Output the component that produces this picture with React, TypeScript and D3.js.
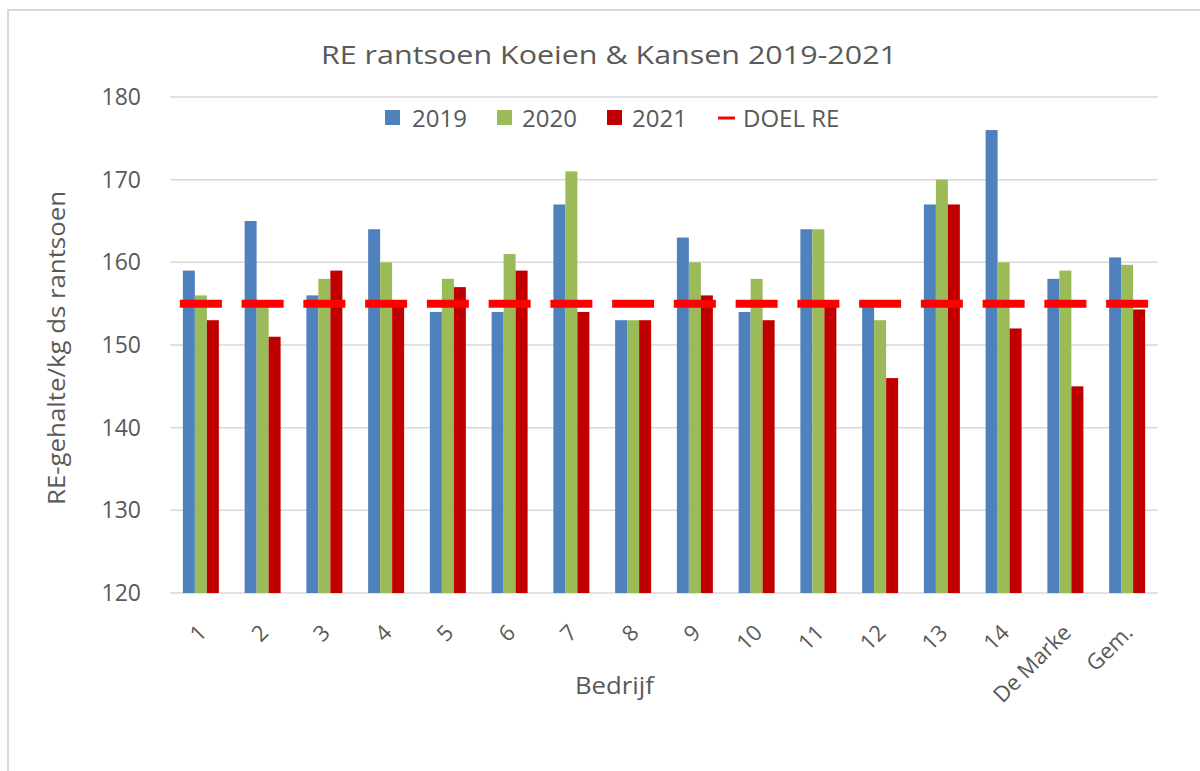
import React from "react";
import * as d3 from "d3";

const categories = ["1", "2", "3", "4", "5", "6", "7", "8", "9", "10", "11", "12", "13", "14", "De Marke", "Gem."];
const years = ["2019", "2020", "2021"];
const values2019 = [159, 165, 156, 164, 154, 154, 167, 153, 163, 154, 164, 155, 167, 176, 158, 160.6];
const values2020 = [156, 155, 158, 160, 158, 161, 171, 153, 160, 158, 164, 153, 170, 160, 159, 159.7];
const values2021 = [153, 151, 159, 155, 157, 159, 154, 153, 156, 153, 155, 146, 167, 152, 145, 154.3];
const doelRE = [155, 155, 155, 155, 155, 155, 155, 155, 155, 155, 155, 155, 155, 155, 155, 155];
const yTicks = [120, 130, 140, 150, 160, 170, 180];

const colors = ["#4F81BD", "#9BBB59", "#C00000"];
const doelColor = "#FF0000";
const textColor = "#595959";
const gridColor = "#D9D9D9";
const font = "'Open Sans', sans-serif";

const W = 1200;
const H = 771;

export default function App() {
  const series = [values2019, values2020, values2021];

  const x = d3.scaleBand().domain(categories).range([170, 1158]).padding(0);
  const y = d3.scaleLinear().domain([120, 180]).range([593, 97]);
  const groupW = 36;
  const sub = d3.scaleBand().domain(years).range([0, groupW]).padding(0);
  const groupOffset = (x.bandwidth() - groupW) / 2;
  const dashW = 42;

  // legend layout (x positions of the key and label)
  const legendY = 118;
  const legendItems = [
    { label: "2019", kx: 385, tx: 412, type: "box", color: colors[0] },
    { label: "2020", kx: 497, tx: 522, type: "box", color: colors[1] },
    { label: "2021", kx: 607, tx: 632, type: "box", color: colors[2] },
    { label: "DOEL RE", kx: 718, tx: 743, type: "line", color: doelColor },
  ];

  return (
    <div style={{ position: "absolute", left: 0, top: 0 }}>
      <svg width={W} height={H} style={{ display: "block", background: "#fff" }}>
        {/* chart area border */}
        <rect x={8} y={10} width={W + 20} height={H + 20} fill="#fff" stroke={gridColor} strokeWidth={2} />

        <text
          x={321}
          y={64}
          textLength={576}
          lengthAdjust="spacingAndGlyphs"
          fontFamily={font}
          fontSize={26}
          fill={textColor}
        >
          RE rantsoen Koeien &amp; Kansen 2019-2021
        </text>

        {/* gridlines */}
        {yTicks.map((t) => (
          <line key={"g" + t} x1={170} x2={1158} y1={y(t)} y2={y(t)} stroke={gridColor} strokeWidth={1.5} />
        ))}

        {/* y tick labels */}
        {yTicks.map((t) => (
          <text key={"yt" + t} x={141} y={y(t)} dy="0.35em" textAnchor="end" fontFamily={font} fontSize={23} fill={textColor}>
            {t}
          </text>
        ))}

        {/* bars */}
        {series.map((vals, si) =>
          vals.map((v, i) => {
            const bx = (x(categories[i]) as number) + groupOffset + (sub(years[si]) as number);
            return (
              <rect
                key={"b" + si + "-" + i}
                x={bx}
                y={y(v)}
                width={sub.bandwidth()}
                height={y(120) - y(v)}
                fill={colors[si]}
              />
            );
          })
        )}

        {/* DOEL RE dashes */}
        {doelRE.map((v, i) => {
          const cx = (x(categories[i]) as number) + x.bandwidth() / 2;
          return (
            <line key={"d" + i} x1={cx - dashW / 2} x2={cx + dashW / 2} y1={y(v)} y2={y(v)} stroke={doelColor} strokeWidth={8} />
          );
        })}

        {/* x tick labels */}
        {categories.map((c) => {
          const cx = (x(c) as number) + x.bandwidth() / 2;
          return (
            <text
              key={"xt" + c}
              transform={`translate(${cx + 7},${634}) rotate(-45)`}
              textAnchor="end"
              fontFamily={font}
              fontSize={22}
              fill={textColor}
            >
              {c}
            </text>
          );
        })}

        {/* axis titles */}
        <text
          x={575}
          y={694}
          textLength={79}
          lengthAdjust="spacingAndGlyphs"
          fontFamily={font}
          fontSize={23}
          fill={textColor}
        >
          Bedrijf
        </text>
        <text
          transform={`translate(65,${505}) rotate(-90)`}
          textLength={314}
          lengthAdjust="spacingAndGlyphs"
          fontFamily={font}
          fontSize={23}
          fill={textColor}
        >
          RE-gehalte/kg ds rantsoen
        </text>

        {/* legend */}
        {legendItems.map((it) => (
          <g key={"l" + it.label}>
            {it.type === "box" ? (
              <rect x={it.kx} y={legendY - 8} width={15} height={15} fill={it.color} />
            ) : (
              <line x1={it.kx} x2={it.kx + 17} y1={legendY} y2={legendY} stroke={it.color} strokeWidth={3} />
            )}
            <text x={it.tx} y={legendY} dy="0.36em" fontFamily={font} fontSize={24} fill={textColor}>
              {it.label}
            </text>
          </g>
        ))}
      </svg>
    </div>
  );
}
